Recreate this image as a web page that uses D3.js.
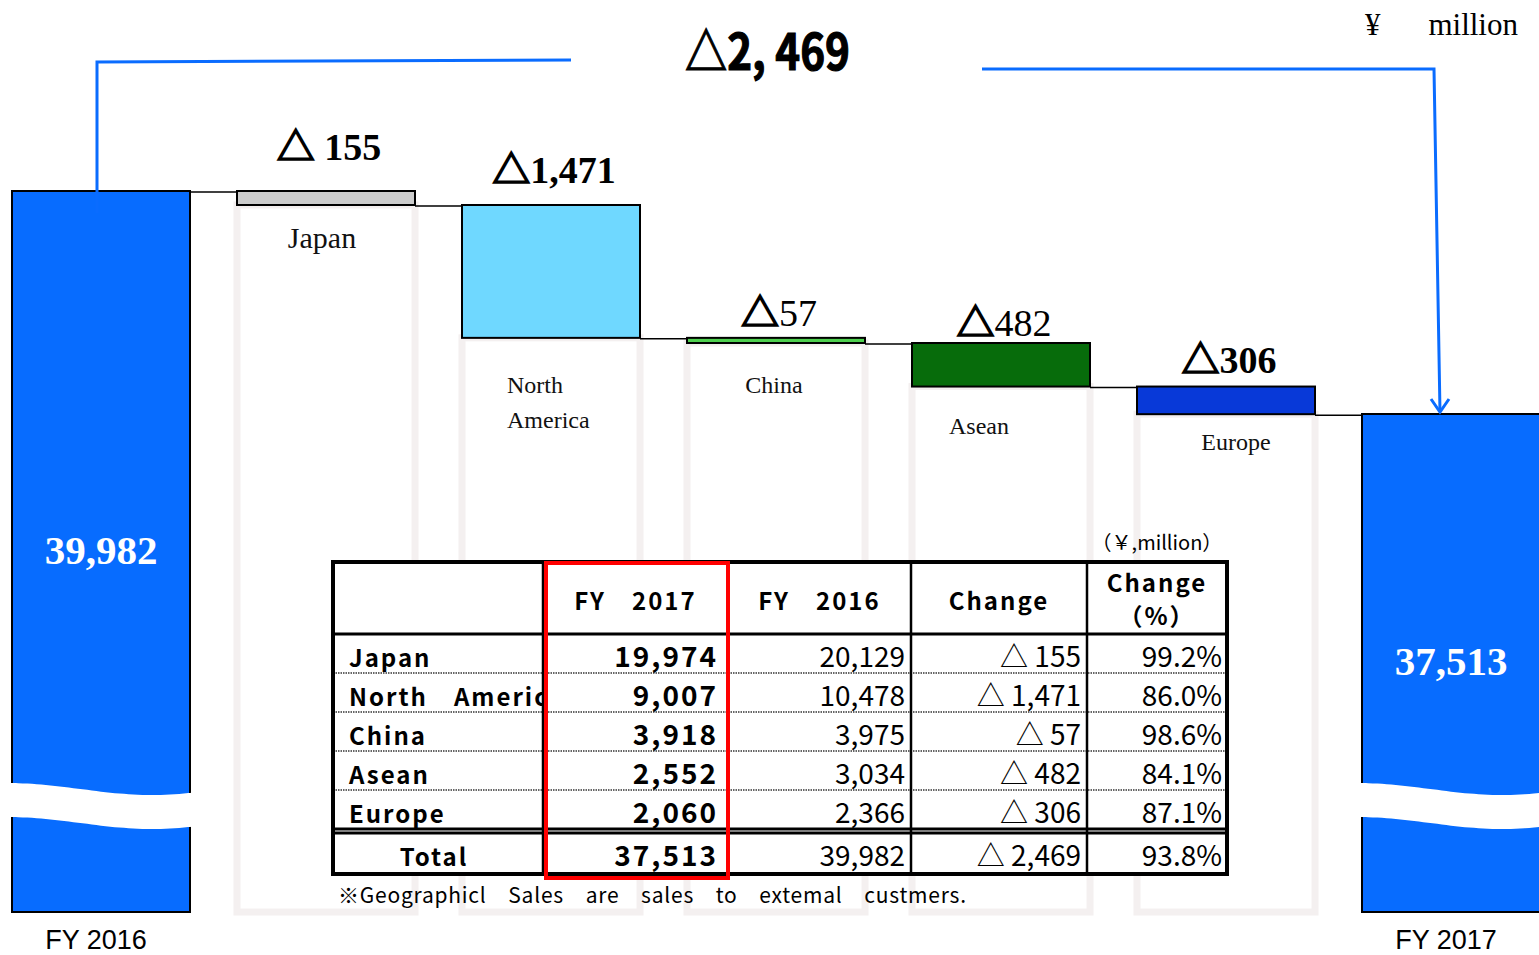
<!DOCTYPE html>
<html>
<head>
<meta charset="utf-8">
<script src="https://cdn.jsdelivr.net/npm/d3@7"></script>
<style>
  body { margin: 0; background: #fff; }
  svg { display: block; }
</style>
</head>
<body>
<div id="container"></div>
<script>
/* CONSTANTS AND GLOBALS */
const width = 1539;
const height = 955;
const bottomY = 912;

/* DATA */
const regions = ["Japan", "North　America", "China", "Asean", "Europe"];
const fy2017 = [19974, 9007, 3918, 2552, 2060];
const fy2016 = [20129, 10478, 3975, 3034, 2366];
const change = [-155, -1471, -57, -482, -306];
const changePct = ["99.2%", "86.0%", "98.6%", "84.1%", "87.1%"];
const total2016 = 39982;
const total2017 = 37513;
const totalChange = -2469;
const totalPct = "93.8%";
const barLabels = [["Japan"], ["North", "America"], ["China"], ["Asean"], ["Europe"]];
const tableHeaders = ["", "FY　2017", "FY　2016", "Change", "Change|（%）"];

// styles / small layout tweaks
const regionColors = ["#cccccc", "#6fd8ff", "#4fd04f", "#076c0b", "#0839d8"];
const bigBlue = "#076cff";
const labelSize = [30, 24, 24, 24, 24];
const labelDrop = [43, 55, 50, 47, 36];
const labelShift = [-4, 0, -2, -22, 10];
const chgLift = [31, 22, 12, 7, 14];
const chgWeight = ["bold", "bold", "normal", "normal", "bold"];

const fmt = d3.format(",");

/* SCALES */
const cats = ["FY 2016", ...regions, "FY 2017"];
const xScale = d3.scaleBand()
  .domain(cats)
  .range([12, 1540])
  .paddingInner(47 / 225)
  .paddingOuter(0);

const yScale = d3.scaleLinear()
  .domain([total2017, total2016])
  .range([414, 191]);

/* SVG */
const svg = d3.select("#container")
  .append("svg")
  .attr("width", width)
  .attr("height", height);

const serif = "'Liberation Serif', 'DejaVu Serif', serif";
const gothic = "'Noto Sans CJK JP', 'Noto Sans', sans-serif";

// waterfall steps
let running = total2016;
const steps = regions.map((r, i) => {
  const start = running;
  running = running + change[i];
  return { region: r, start: start, end: running, i: i };
});

// ghost bars
svg.selectAll("rect.ghost")
  .data(steps)
  .join("rect")
  .attr("class", "ghost")
  .attr("x", d => xScale(d.region))
  .attr("y", d => yScale(d.end))
  .attr("width", xScale.bandwidth())
  .attr("height", d => bottomY - yScale(d.end))
  .attr("fill", "none")
  .attr("stroke", "#f4f0f0")
  .attr("stroke-width", 7);

// total bars
const totals = [{ cat: "FY 2016", v: total2016 }, { cat: "FY 2017", v: total2017 }];
svg.selectAll("rect.total")
  .data(totals)
  .join("rect")
  .attr("class", "total")
  .attr("x", d => xScale(d.cat))
  .attr("y", d => yScale(d.v))
  .attr("width", xScale.bandwidth())
  .attr("height", d => bottomY - yScale(d.v))
  .attr("fill", bigBlue)
  .attr("stroke", "#000")
  .attr("stroke-width", 2);

// wave breaks
totals.forEach(d => {
  const x0 = xScale(d.cat) - 3, x1 = xScale(d.cat) + xScale.bandwidth() + 3;
  const w = x1 - x0;
  const top = 789, gap = 34;
  const wave = y => d3.range(0, 21).map(k => {
    const t = k / 20;
    return [x0 + t * w, y + 6 * Math.sin(-Math.PI / 2 + t * Math.PI * 1.3)];
  });
  const line = d3.line().curve(d3.curveBasis);
  svg.append("path")
    .attr("d", line(wave(top)) + "L" + line(wave(top + gap).reverse()).slice(1) + "Z")
    .attr("fill", "#fff");
});

// total value labels
svg.selectAll("text.totalVal")
  .data(totals)
  .join("text")
  .attr("class", "totalVal")
  .attr("x", d => xScale(d.cat) + xScale.bandwidth() / 2)
  .attr("y", d => d.cat === "FY 2016" ? 564 : 675)
  .attr("text-anchor", "middle")
  .attr("font-family", serif)
  .attr("font-weight", "bold")
  .attr("font-size", 41)
  .attr("fill", "#fff")
  .text(d => fmt(d.v));

// bottom category labels
svg.selectAll("text.fy")
  .data(totals)
  .join("text")
  .attr("class", "fy")
  .attr("x", d => xScale(d.cat) + xScale.bandwidth() / 2 - 5)
  .attr("y", 949)
  .attr("text-anchor", "middle")
  .attr("font-family", "'Liberation Sans', Arial, sans-serif")
  .attr("font-size", 27)
  .attr("fill", "#000")
  .text(d => d.cat);

// region bars
svg.selectAll("rect.step")
  .data(steps)
  .join("rect")
  .attr("class", "step")
  .attr("x", d => xScale(d.region))
  .attr("y", d => yScale(d.start))
  .attr("width", xScale.bandwidth())
  .attr("height", d => yScale(d.end) - yScale(d.start))
  .attr("fill", d => regionColors[d.i])
  .attr("stroke", "#000")
  .attr("stroke-width", 2);

// connectors
const connectors = [{ from: "FY 2016", to: regions[0], v: total2016 }]
  .concat(steps.map((s, i) => ({ from: s.region, to: cats[i + 2], v: s.end })));
svg.selectAll("line.conn")
  .data(connectors)
  .join("line")
  .attr("class", "conn")
  .attr("x1", d => xScale(d.from) + xScale.bandwidth())
  .attr("x2", d => xScale(d.to))
  .attr("y1", d => yScale(d.v) + 1)
  .attr("y2", d => yScale(d.v) + 1)
  .attr("stroke", "#000")
  .attr("stroke-width", 1.5);

// change labels (full-width triangle + number)
steps.forEach(d => {
  const t = svg.append("text")
    .attr("x", xScale(d.region) + xScale.bandwidth() / 2 + 3)
    .attr("y", yScale(d.start) - chgLift[d.i])
    .attr("text-anchor", "middle")
    .attr("fill", "#000");
  t.append("tspan")
    .attr("font-family", gothic)
    .attr("font-weight", "bold")
    .attr("font-size", 38)
    .attr("stroke", "#000")
    .attr("stroke-width", 1.6)
    .text("△");
  t.append("tspan")
    .attr("font-family", serif)
    .attr("font-weight", chgWeight[d.i])
    .attr("font-size", 38)
    .text((d.i === 0 ? " " : "") + fmt(-change[d.i]));
});

// region labels under bars
steps.forEach(d => {
  const lines = barLabels[d.i];
  const cx = xScale(d.region) + xScale.bandwidth() / 2 + labelShift[d.i];
  const t = svg.append("text")
    .attr("font-family", serif)
    .attr("font-size", labelSize[d.i])
    .attr("fill", "#111")
    .attr("text-anchor", lines.length > 1 ? "start" : "middle");
  lines.forEach((ln, k) => {
    t.append("tspan")
      .attr("x", lines.length > 1 ? cx - 44 : cx)
      .attr("y", yScale(d.end) + labelDrop[d.i] + k * 35)
      .text(ln);
  });
});

// overall change arrow
const arrowColor = "#0a6cff";
const leftX = xScale("FY 2016") + 85;
const rightX = xScale("FY 2017") + 78;
const endY = yScale(total2017) - 2;
svg.append("path")
  .attr("d", `M${leftX},213 L${leftX},62 L571,60`)
  .attr("fill", "none")
  .attr("stroke", arrowColor)
  .attr("stroke-width", 3);
svg.append("path")
  .attr("d", `M982,69 L${rightX - 6},69 L${rightX},${endY}`)
  .attr("fill", "none")
  .attr("stroke", arrowColor)
  .attr("stroke-width", 3);
svg.append("path")
  .attr("d", `M${rightX - 9},${endY - 13} L${rightX},${endY} L${rightX + 9},${endY - 13}`)
  .attr("fill", "none")
  .attr("stroke", arrowColor)
  .attr("stroke-width", 3);

svg.append("text")
  .attr("x", 685)
  .attr("y", 70)
  .attr("textLength", 165)
  .attr("lengthAdjust", "spacingAndGlyphs")
  .attr("font-family", gothic)
  .attr("font-weight", "bold")
  .attr("font-size", 50)
  .attr("stroke", "#000")
  .attr("stroke-width", 1.2)
  .attr("fill", "#000")
  .text("△2, 469");

// unit
svg.append("text")
  .attr("x", 1365).attr("y", 35)
  .attr("font-family", serif).attr("font-size", 31)
  .attr("fill", "#000")
  .text("¥");
svg.append("text")
  .attr("x", 1518).attr("y", 35)
  .attr("text-anchor", "end")
  .attr("font-family", serif).attr("font-size", 31)
  .attr("fill", "#000")
  .text("million");

/* TABLE */
const colX = [333, 543, 728, 911, 1087, 1227];
const rowY = [562, 634, 673, 712, 751, 790, 829, 874];
const tbl = svg.append("g");

// clip for the label column
svg.append("clipPath").attr("id", "labelClip")
  .append("rect").attr("x", colX[0]).attr("y", rowY[0]).attr("width", colX[1] - colX[0]).attr("height", rowY[7] - rowY[0]);

tbl.append("rect")
  .attr("x", colX[0]).attr("y", rowY[0])
  .attr("width", colX[5] - colX[0]).attr("height", rowY[7] - rowY[0])
  .attr("fill", "#fff");

// dotted row separators
tbl.selectAll("line.dot")
  .data(rowY.slice(2, 6))
  .join("line")
  .attr("x1", colX[0]).attr("x2", colX[5])
  .attr("y1", d => d).attr("y2", d => d)
  .attr("stroke", "#666")
  .attr("stroke-width", 2)
  .attr("stroke-dasharray", "1.5,1");

// solid horizontal lines
tbl.selectAll("line.h")
  .data([rowY[1], rowY[6], rowY[6] + 4])
  .join("line")
  .attr("x1", colX[0]).attr("x2", colX[5])
  .attr("y1", d => d).attr("y2", d => d)
  .attr("stroke", "#000")
  .attr("stroke-width", 3);

// vertical lines
tbl.selectAll("line.v")
  .data(colX.slice(1, 5))
  .join("line")
  .attr("x1", d => d).attr("x2", d => d)
  .attr("y1", rowY[0]).attr("y2", rowY[7])
  .attr("stroke", "#000")
  .attr("stroke-width", 2.5);

tbl.append("rect")
  .attr("x", colX[0]).attr("y", rowY[0])
  .attr("width", colX[5] - colX[0]).attr("height", rowY[7] - rowY[0])
  .attr("fill", "none")
  .attr("stroke", "#000")
  .attr("stroke-width", 4);

// headers
tableHeaders.forEach((h, c) => {
  if (!h) return;
  const parts = h.split("|");
  const cx = (colX[c] + colX[c + 1]) / 2;
  parts.forEach((p, k) => {
    tbl.append("text")
      .attr("x", cx)
      .attr("y", parts.length > 1 ? 592 + k * 33 : 610)
      .attr("text-anchor", "middle")
      .attr("font-family", gothic)
      .attr("font-weight", "bold")
      .attr("font-size", 24)
      .attr("letter-spacing", 2)
      .attr("fill", "#000")
      .text(p);
  });
});

const bodyRows = regions.map((r, i) => ({
  label: r, a: fy2017[i], b: fy2016[i], c: change[i], p: changePct[i], y: rowY[i + 2] - 6
}));
bodyRows.push({ label: "Total", a: total2017, b: total2016, c: totalChange, p: totalPct, y: rowY[7] - 8, total: true });

bodyRows.forEach(d => {
  tbl.append("text")
    .attr("x", d.total ? (colX[0] + colX[1]) / 2 - 4 : colX[0] + 16)
    .attr("y", d.y)
    .attr("text-anchor", d.total ? "middle" : "start")
    .attr("clip-path", "url(#labelClip)")
    .attr("font-family", gothic)
    .attr("font-weight", "bold")
    .attr("font-size", 24)
    .attr("letter-spacing", 2)
    .attr("fill", "#000")
    .text(d.label);
  tbl.append("text")
    .attr("x", colX[2] - 10).attr("y", d.y)
    .attr("text-anchor", "end")
    .attr("font-family", gothic).attr("font-weight", "bold")
    .attr("font-size", 28).attr("letter-spacing", 2)
    .attr("fill", "#000")
    .text(fmt(d.a));
  tbl.append("text")
    .attr("x", colX[3] - 6).attr("y", d.y)
    .attr("text-anchor", "end")
    .attr("font-family", gothic)
    .attr("font-size", 28)
    .attr("fill", "#000")
    .text(fmt(d.b));
  tbl.append("text")
    .attr("x", colX[4] - 6).attr("y", d.y)
    .attr("text-anchor", "end")
    .attr("font-family", gothic)
    .attr("font-size", 28)
    .attr("fill", "#000")
    .text("△ " + fmt(Math.abs(d.c)));
  tbl.append("text")
    .attr("x", colX[5] - 5).attr("y", d.y)
    .attr("text-anchor", "end")
    .attr("font-family", gothic)
    .attr("font-size", 28)
    .attr("fill", "#000")
    .text(d.p);
});

// red highlight around FY2017
tbl.append("rect")
  .attr("x", colX[1] + 3).attr("y", rowY[0] + 1)
  .attr("width", colX[2] - colX[1] - 3).attr("height", rowY[7] - rowY[0] + 3)
  .attr("fill", "none")
  .attr("stroke", "#ff0000")
  .attr("stroke-width", 4);

// unit above table, footnote below
svg.append("text")
  .attr("x", 1157).attr("y", 550)
  .attr("text-anchor", "middle")
  .attr("font-family", gothic)
  .attr("font-size", 20)
  .attr("fill", "#000")
  .text("（￥,million）");

svg.append("text")
  .attr("x", 338).attr("y", 903)
  .attr("font-family", gothic)
  .attr("font-size", 21)
  .attr("textLength", 628)
  .attr("lengthAdjust", "spacing")
  .attr("fill", "#000")
  .text("※Geographicl　Sales　are　sales　to　extemal　custmers.");
</script>
</body>
</html>
